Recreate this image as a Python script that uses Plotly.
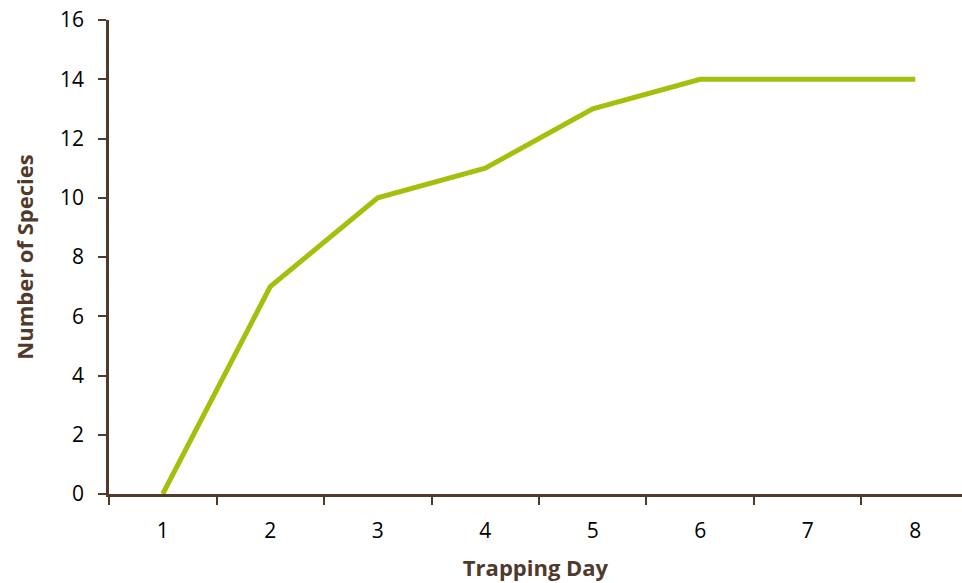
import plotly.graph_objects as go

days = ["1", "2", "3", "4", "5", "6", "7", "8"]
species = [0, 7, 10, 11, 13, 14, 14, 14]
y_ticks = [0, 2, 4, 6, 8, 10, 12, 14, 16]

axis_color = "#4F3A2C"
line_color = "#A6BE0C"

fig = go.Figure()
fig.add_trace(go.Scatter(
    x=days, y=species, mode="lines",
    line=dict(color=line_color, width=5),
    showlegend=False, hoverinfo="skip",
))

fig.update_layout(
    width=962, height=583,
    margin=dict(l=109, r=0, t=20, b=89),
    paper_bgcolor="white", plot_bgcolor="white",
    font=dict(family="Open Sans, Lato, sans-serif", size=21, color="black"),
    xaxis=dict(
        type="category", range=[-0.5, 7.435],
        tickson="boundaries", ticks="outside", ticklen=8, tickwidth=2, tickcolor=axis_color,
        showline=True, linecolor=axis_color, linewidth=2.5,
        showgrid=False, zeroline=False, ticklabelstandoff=16,
        title=dict(text="<b>Trapping Day</b>", font=dict(size=22, color=axis_color), standoff=18),
    ),
    yaxis=dict(
        range=[0, 16], tickvals=y_ticks,
        ticks="outside", ticklen=8, tickwidth=2, tickcolor=axis_color,
        showline=True, linecolor=axis_color, linewidth=2.5,
        showgrid=False, zeroline=False, ticklabelstandoff=10,
        title=dict(text="<b>Number of Species</b>", font=dict(size=22, color=axis_color), standoff=21),
    ),
)

fig.write_html("out.html", config={"displayModeBar": False},
               post_script="document.body.style.margin='0';")
